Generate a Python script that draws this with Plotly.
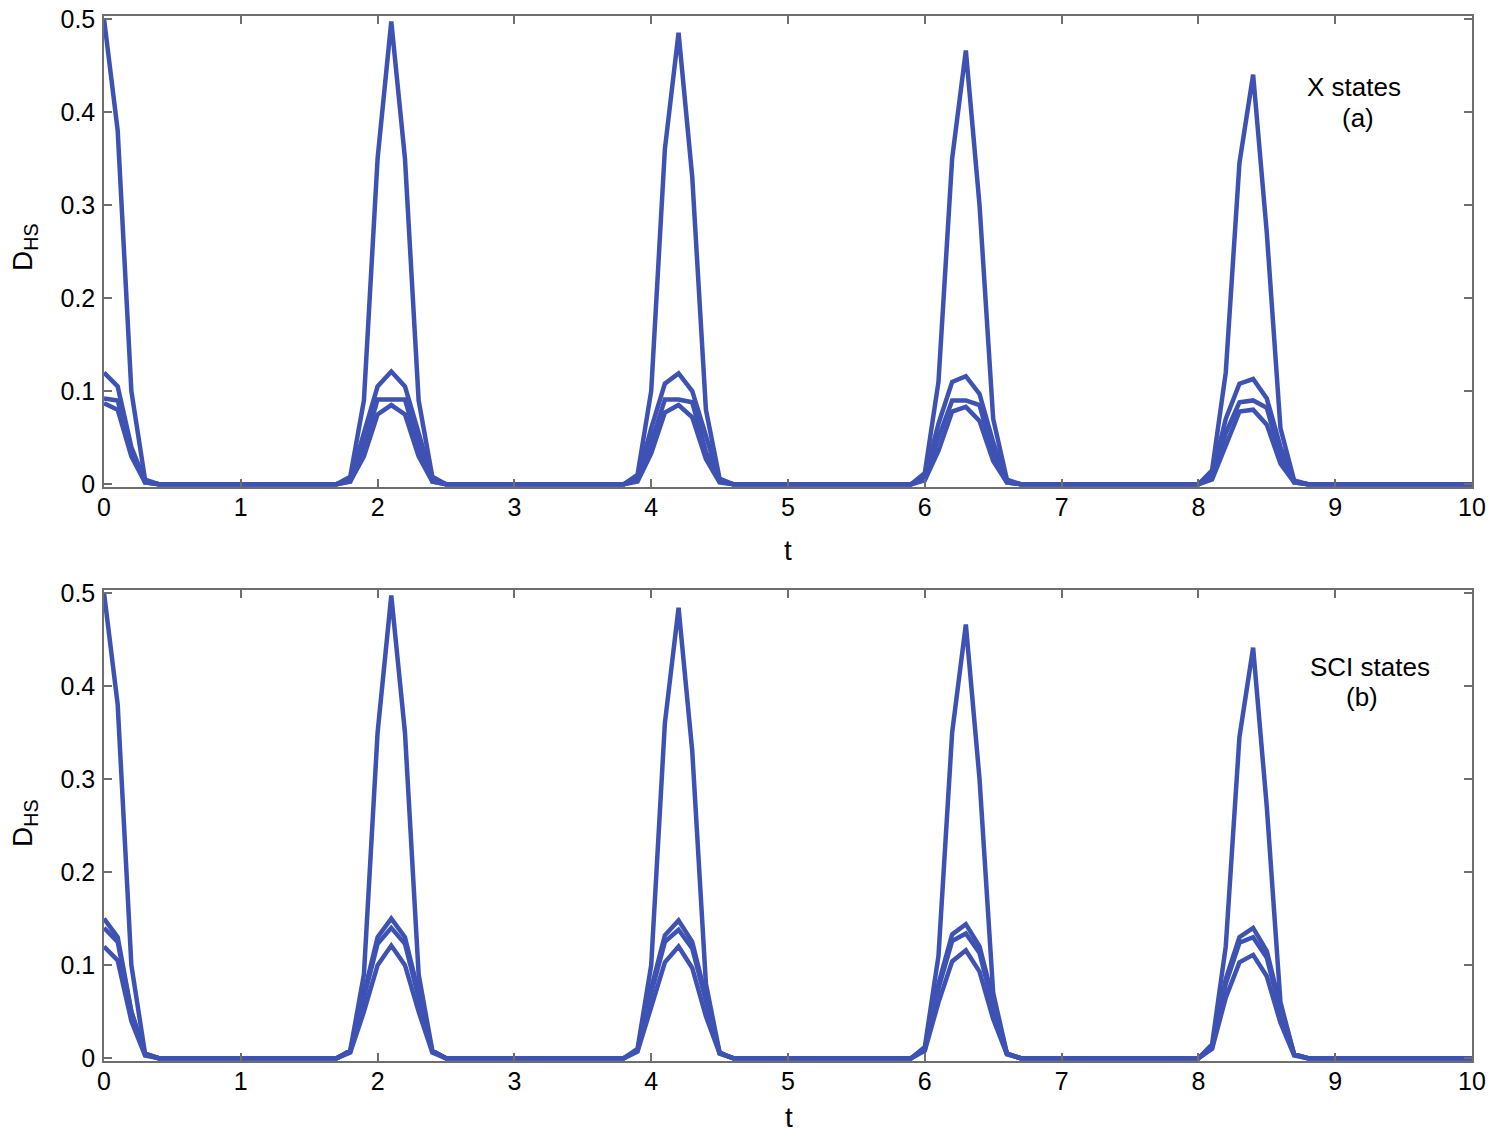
import plotly.graph_objects as go

# sample times t = 0.0, 0.1, ..., 10.0
t = [round(0.1 * i, 1) for i in range(101)]

x_ticks = [0, 1, 2, 3, 4, 5, 6, 7, 8, 9, 10]
y_ticks = [0, 0.1, 0.2, 0.3, 0.4, 0.5]
y_ticklabels = ["0", "0.1", "0.2", "0.3", "0.4", "0.5"]

# window start indices (in samples) for each revival peak
big_starts = [0, 17, 38, 59, 80]
small_starts = [0, 18, 39, 60, 81]

# ---- panel (a): X states ----
a_big = [
    [0.50, 0.38, 0.10, 0.005, 0.0],
    [0.0, 0.008, 0.09, 0.35, 0.497, 0.35, 0.09, 0.008, 0.0],
    [0.0, 0.010, 0.10, 0.36, 0.485, 0.33, 0.08, 0.006, 0.0],
    [0.0, 0.012, 0.11, 0.35, 0.466, 0.30, 0.07, 0.005, 0.0],
    [0.0, 0.015, 0.12, 0.345, 0.440, 0.27, 0.06, 0.004, 0.0],
]
a_b = [
    [0.12, 0.105, 0.04, 0.003],
    [0.005, 0.055, 0.105, 0.121, 0.105, 0.055, 0.005],
    [0.006, 0.060, 0.108, 0.119, 0.100, 0.050, 0.004],
    [0.008, 0.065, 0.110, 0.116, 0.097, 0.045, 0.003],
    [0.010, 0.070, 0.108, 0.113, 0.092, 0.040, 0.003],
]
a_c = [
    [0.092, 0.090, 0.035, 0.002],
    [0.003, 0.040, 0.091, 0.091, 0.091, 0.040, 0.003],
    [0.004, 0.045, 0.091, 0.091, 0.088, 0.035, 0.003],
    [0.005, 0.050, 0.090, 0.090, 0.085, 0.032, 0.002],
    [0.006, 0.055, 0.088, 0.090, 0.082, 0.030, 0.002],
]
a_d = [
    [0.087, 0.080, 0.030, 0.002],
    [0.003, 0.030, 0.075, 0.085, 0.075, 0.030, 0.003],
    [0.003, 0.033, 0.077, 0.085, 0.072, 0.027, 0.002],
    [0.004, 0.036, 0.078, 0.083, 0.068, 0.025, 0.002],
    [0.005, 0.040, 0.078, 0.080, 0.064, 0.022, 0.002],
]

# ---- panel (b): SCI states ----
b_big = [
    [0.50, 0.38, 0.10, 0.005, 0.0],
    [0.0, 0.008, 0.09, 0.35, 0.497, 0.35, 0.09, 0.008, 0.0],
    [0.0, 0.010, 0.10, 0.36, 0.484, 0.33, 0.08, 0.006, 0.0],
    [0.0, 0.012, 0.11, 0.35, 0.466, 0.30, 0.07, 0.005, 0.0],
    [0.0, 0.015, 0.12, 0.345, 0.441, 0.27, 0.06, 0.004, 0.0],
]
b_b = [
    [0.150, 0.130, 0.050, 0.005],
    [0.008, 0.070, 0.130, 0.150, 0.130, 0.070, 0.008],
    [0.009, 0.075, 0.132, 0.148, 0.125, 0.065, 0.006],
    [0.010, 0.080, 0.133, 0.144, 0.120, 0.060, 0.005],
    [0.012, 0.085, 0.130, 0.140, 0.115, 0.055, 0.004],
]
b_c = [
    [0.140, 0.125, 0.050, 0.004],
    [0.007, 0.065, 0.123, 0.140, 0.123, 0.065, 0.007],
    [0.008, 0.070, 0.125, 0.138, 0.118, 0.060, 0.005],
    [0.009, 0.075, 0.126, 0.134, 0.113, 0.055, 0.005],
    [0.011, 0.080, 0.124, 0.130, 0.108, 0.050, 0.004],
]
b_d = [
    [0.120, 0.105, 0.040, 0.003],
    [0.006, 0.050, 0.100, 0.121, 0.100, 0.050, 0.006],
    [0.007, 0.055, 0.103, 0.120, 0.097, 0.045, 0.005],
    [0.008, 0.060, 0.104, 0.116, 0.093, 0.042, 0.004],
    [0.010, 0.065, 0.103, 0.111, 0.088, 0.038, 0.003],
]


def assemble(windows, starts):
    y = [0.0] * len(t)
    for s, vals in zip(starts, windows):
        for j, v in enumerate(vals):
            y[s + j] = v
    return y


LINE = "#3d52b3"
AXC = "#6e6e6e"
FONT = "Liberation Sans, Arial, sans-serif"

fig = go.Figure()

panels = [
    ("x", "y", [(a_big, big_starts), (a_b, small_starts), (a_c, small_starts), (a_d, small_starts)]),
    ("x2", "y2", [(b_big, big_starts), (b_b, small_starts), (b_c, small_starts), (b_d, small_starts)]),
]
for xa, ya, series in panels:
    for win, st in series:
        fig.add_trace(go.Scatter(
            x=t, y=assemble(win, st), mode="lines", xaxis=xa, yaxis=ya,
            line=dict(color=LINE, width=4.5), showlegend=False, hoverinfo="skip",
        ))

# page has an 8px body margin; figure occupies the rest
OFF = 8
W, H = 1494 - 2 * OFF, 1141 - 2 * OFF


def px(x):
    return (x - OFF) / W


def py(y):
    return 1 - (y - OFF) / H


xdom = [px(104), px(1472)]
ydom_top = [py(487), py(16)]
ydom_bot = [py(1061), py(590)]

axis_common = dict(
    showline=True, linecolor=AXC, linewidth=1.5, mirror="ticks",
    ticks="inside", ticklen=8, tickwidth=1.5, tickcolor=AXC,
    showgrid=False, zeroline=False, automargin=False,
    ticklabeloverflow="allow",
    tickfont=dict(family=FONT, size=25, color="black"),
)

fig.update_layout(
    width=W, height=H,
    margin=dict(l=0, r=0, t=0, b=0, autoexpand=False),
    paper_bgcolor="white", plot_bgcolor="white",
    xaxis=dict(domain=xdom, anchor="y", range=[0, 10], tickvals=x_ticks,
               ticklabelstandoff=-3, **axis_common),
    yaxis=dict(domain=ydom_top, anchor="x", range=[-0.003, 0.503], tickvals=y_ticks,
               ticktext=y_ticklabels, ticklabelstandoff=2, **axis_common),
    xaxis2=dict(domain=xdom, anchor="y2", range=[0, 10], tickvals=x_ticks,
                ticklabelstandoff=-3, **axis_common),
    yaxis2=dict(domain=ydom_bot, anchor="x2", range=[-0.003, 0.503], tickvals=y_ticks,
                ticktext=y_ticklabels, ticklabelstandoff=2, **axis_common),
)

ann_font = dict(family=FONT, size=26, color="black")
big_font = dict(family=FONT, size=28, color="black")
annotations = [
    dict(text="X states", x=px(1354), y=py(87)),
    dict(text="(a)", x=px(1358), y=py(118)),
    dict(text="SCI states", x=px(1370), y=py(667)),
    dict(text="(b)", x=px(1362), y=py(697)),
    dict(text="t", x=px(788), y=py(550), font=big_font),
    dict(text="t", x=px(789), y=py(1117), font=big_font),
    dict(text="D<sub>HS</sub>", x=px(24), y=py(248), textangle=-90, font=big_font),
    dict(text="D<sub>HS</sub>", x=px(24), y=py(824), textangle=-90, font=big_font),
]
for a in annotations:
    fig.add_annotation(xref="paper", yref="paper", showarrow=False,
                       xanchor="center", yanchor="middle",
                       font=a.pop("font", ann_font), **a)

fig.write_html("out.html")
